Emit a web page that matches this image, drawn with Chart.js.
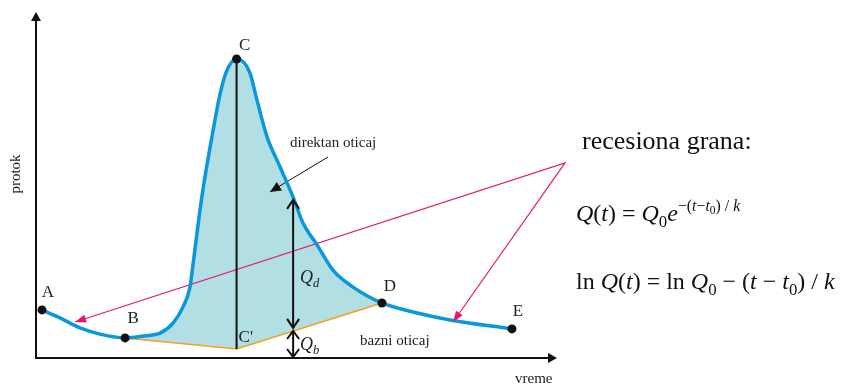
<!DOCTYPE html>
<html>
<head>
<meta charset="utf-8">
<script src="https://cdn.jsdelivr.net/npm/chart.js@4.4.1/dist/chart.umd.min.js"></script>
<style>
  body { margin: 0; background: #fff; }
  canvas { display: block; }
</style>
</head>
<body>
<canvas id="chart" width="844" height="386"></canvas>
<script>
// hidrogram: vreme (t) / protok (Q), proizvoljne jedinice
const hydroT = [0.23, 0.92, 1.69, 2.46, 3.42, 4.18, 4.76, 5.26, 5.64, 5.91, 6.05, 6.18, 6.35, 6.53, 6.78, 7.04, 7.29, 7.70,
                8.21, 8.48, 8.87, 9.37, 9.87, 10.25, 10.79, 11.40, 12.17, 13.28, 14.63, 15.89, 18.27];
const hydroQ = [1.39, 1.16, 0.87, 0.69, 0.58, 0.64, 0.72, 1.01, 1.47, 2.05, 2.83, 3.61, 4.57, 5.43, 6.50, 7.54, 8.24, 8.64,
                8.24, 7.46, 6.39, 5.52, 4.65, 3.90, 3.27, 2.54, 2.05, 1.59, 1.30, 1.10, 0.84];
const B_IDX = 4, D_IDX = 27;

// bazni oticaj B - C' - D
const baseT = [3.42, 7.70, 13.28];
const baseQ = [0.58, 0.26, 1.59];

const pointNames = ['A', 'B', 'C', 'D', 'E'];
const pointT = [0.23, 3.42, 7.70, 13.28, 18.27];
const pointQ = [1.39, 0.58, 8.64, 1.59, 0.84];

// Qd / Qb strelice
const qT = 9.87;
const qdTop = 4.57, qdBottom = 0.87, qbTop = 0.78;

// recesiona grana (pokazivaci)
const recesT = [1.50, 20.31, 16.01];
const recesQ = [1.04, 5.64, 1.04];

// direktan oticaj (pokazivac)
const directT = [11.21, 8.98];
const directQ = [5.81, 4.80];

const X_MAX = 20, Y_MAX = 10;

const xy = (ts, qs) => ts.map((t, i) => ({ x: t, y: qs[i] }));

const hydro = xy(hydroT, hydroQ);
const fillShape = hydro.slice(B_IDX, D_IDX + 1).concat(xy(baseT, baseQ).reverse().slice(1));

const SERIF = '"Liberation Serif", "Times New Roman", serif';

function arrowHead(ctx, x0, y0, x1, y1, len, half, filled) {
  const a = Math.atan2(y1 - y0, x1 - x0);
  const bx = x1 - len * Math.cos(a), by = y1 - len * Math.sin(a);
  const px = -Math.sin(a) * half, py = Math.cos(a) * half;
  ctx.beginPath();
  ctx.moveTo(bx + px, by + py);
  ctx.lineTo(x1, y1);
  ctx.lineTo(bx - px, by - py);
  if (filled) { ctx.closePath(); ctx.fill(); } else ctx.stroke();
}

function drawRich(ctx, x, y, parts, size) {
  ctx.textBaseline = 'alphabetic';
  ctx.textAlign = 'left';
  for (const [txt, it, sc, dy] of parts) {
    ctx.font = (it ? 'italic ' : '') + (size * sc) + 'px ' + SERIF;
    ctx.fillText(txt, x, y + dy * size);
    x += ctx.measureText(txt).width;
  }
}

const formula1 = [
  ['Q', 1, 1, 0], ['(', 0, 1, 0], ['t', 1, 1, 0], [')', 0, 1, 0], [' = ', 0, 1, 0],
  ['Q', 1, 1, 0], ['0', 0, .7, .25], ['e', 1, 1, 0],
  ['\u2212(', 0, .66, -.42], ['t', 1, .66, -.42], ['\u2212', 0, .66, -.42], ['t', 1, .66, -.42],
  ['0', 0, .48, -.3], [')', 0, .66, -.42], [' / ', 0, .66, -.42], ['k', 1, .66, -.42]
];
const formula2 = [
  ['ln ', 0, 1, 0], ['Q', 1, 1, 0], ['(', 0, 1, 0], ['t', 1, 1, 0], [')', 0, 1, 0], [' = ln ', 0, 1, 0],
  ['Q', 1, 1, 0], ['0', 0, .7, .25], [' \u2212 (', 0, 1, 0], ['t', 1, 1, 0], [' \u2212 ', 0, 1, 0],
  ['t', 1, 1, 0], ['0', 0, .7, .25], [') / ', 0, 1, 0], ['k', 1, 1, 0]
];

const decor = {
  id: 'decor',
  beforeDatasetsDraw(chart) {
    const { ctx, scales: { x, y } } = chart;
    const x0 = x.getPixelForValue(0), y0 = y.getPixelForValue(0);
    const xEnd = x.getPixelForValue(X_MAX), yEnd = y.getPixelForValue(Y_MAX);
    ctx.save();
    ctx.strokeStyle = '#111';
    ctx.fillStyle = '#111';
    ctx.lineWidth = 2;
    ctx.beginPath();
    ctx.moveTo(x0, y0); ctx.lineTo(x0, yEnd + 6);
    ctx.moveTo(x0 - 1, y0); ctx.lineTo(xEnd - 6, y0);
    ctx.stroke();
    arrowHead(ctx, x0, y0, x0, yEnd, 9, 5, true);
    arrowHead(ctx, x0, y0, xEnd, y0, 9, 5, true);
    ctx.restore();
  },
  afterDatasetsDraw(chart) {
    const { ctx, scales: { x, y } } = chart;
    const X = v => x.getPixelForValue(v), Y = v => y.getPixelForValue(v);
    ctx.save();

    // Qd, Qb dvostruke strelice
    ctx.strokeStyle = '#111';
    ctx.lineWidth = 2;
    const qx = X(qT);
    ctx.beginPath();
    ctx.moveTo(qx, Y(qdTop)); ctx.lineTo(qx, Y(qdBottom));
    ctx.moveTo(qx, Y(qbTop)); ctx.lineTo(qx, Y(0) - 1);
    ctx.stroke();
    arrowHead(ctx, qx, Y(qdBottom), qx, Y(qdTop), 9, 6, false);
    arrowHead(ctx, qx, Y(qdTop), qx, Y(qdBottom), 9, 6, false);
    arrowHead(ctx, qx, Y(0), qx, Y(qbTop), 8, 6, false);
    arrowHead(ctx, qx, Y(qbTop), qx, Y(0) - 1, 8, 6, false);

    // pokazivaci
    ctx.fillStyle = '#111';
    arrowHead(ctx, X(directT[0]), Y(directQ[0]), X(directT[1]), Y(directQ[1]), 11, 5, true);
    ctx.fillStyle = '#e5186f';
    arrowHead(ctx, X(recesT[1]), Y(recesQ[1]), X(recesT[0]), Y(recesQ[0]), 11, 4, true);
    arrowHead(ctx, X(recesT[1]), Y(recesQ[1]), X(recesT[2]), Y(recesQ[2]), 11, 4, true);

    // oznake tacaka
    ctx.fillStyle = '#222';
    ctx.font = '17px ' + SERIF;
    ctx.textAlign = 'center';
    ctx.textBaseline = 'middle';
    const offs = { A: [6, -17], B: [8, -19], C: [8, -14], D: [8, -16], E: [6, -17] };
    pointNames.forEach((n, i) => {
      ctx.fillText(n, X(pointT[i]) + offs[n][0], Y(pointQ[i]) + offs[n][1]);
    });
    ctx.textAlign = 'left';
    ctx.fillText("C'", X(baseT[1]) + 2, Y(baseQ[1]) - 11);

    ctx.font = '15px ' + SERIF;
    ctx.fillText('direktan oticaj', 290, 143);
    ctx.fillText('bazni oticaj', 360, 341);
    ctx.fillText('vreme', 515, 379);
    ctx.save();
    ctx.translate(16, 174);
    ctx.rotate(-Math.PI / 2);
    ctx.textAlign = 'center';
    ctx.fillText('protok', 0, 0);
    ctx.restore();

    drawRich(ctx, qx + 7, Y((qdTop + qdBottom) / 2) + 19, [['Q', 1, 1, 0], ['d', 1, .7, .25]], 18);
    drawRich(ctx, qx + 7, Y(qbTop / 2) + 5, [['Q', 1, 1, 0], ['b', 1, .7, .25]], 18);

    // recesiona grana
    ctx.fillStyle = '#111';
    ctx.font = '26px ' + SERIF;
    ctx.textBaseline = 'alphabetic';
    ctx.fillText('recesiona grana:', 582, 149);
    drawRich(ctx, 576, 221, formula1, 24);
    drawRich(ctx, 576, 289, formula2, 24);
    ctx.restore();
  }
};

new Chart(document.getElementById('chart'), {
  type: 'scatter',
  data: {
    datasets: [
      {
        data: xy(pointT, pointQ),
        pointRadius: 4.5,
        pointBackgroundColor: '#111',
        pointBorderWidth: 0,
        showLine: false
      },
      {
        data: hydro,
        showLine: true,
        borderColor: '#0b97dc',
        borderWidth: 3.5,
        cubicInterpolationMode: 'monotone',
        pointRadius: 0
      },
      {
        data: [{ x: pointT[2], y: pointQ[2] }, { x: baseT[1], y: baseQ[1] }],
        showLine: true,
        borderColor: '#111',
        borderWidth: 2,
        pointRadius: 0
      },
      {
        data: xy(recesT, recesQ),
        showLine: true,
        borderColor: '#e5186f',
        borderWidth: 1.2,
        pointRadius: 0,
        clip: false
      },
      {
        data: xy(directT, directQ),
        showLine: true,
        borderColor: '#111',
        borderWidth: 1,
        pointRadius: 0
      },
      {
        data: xy(baseT, baseQ),
        showLine: true,
        borderColor: '#f5a01e',
        borderWidth: 1.6,
        pointRadius: 0
      },
      {
        data: fillShape,
        showLine: true,
        borderWidth: 0,
        borderColor: 'rgba(0,0,0,0)',
        backgroundColor: '#b1dfe4',
        fill: 'shape',
        tension: 0,
        pointRadius: 0
      }
    ]
  },
  options: {
    responsive: false,
    animation: false,
    layout: { padding: { left: 36, right: 287, top: 12, bottom: 28 } },
    plugins: { legend: { display: false }, tooltip: { enabled: false } },
    scales: {
      x: { type: 'linear', min: 0, max: X_MAX, display: false },
      y: { type: 'linear', min: 0, max: Y_MAX, display: false }
    }
  },
  plugins: [decor]
});
</script>
</body>
</html>
